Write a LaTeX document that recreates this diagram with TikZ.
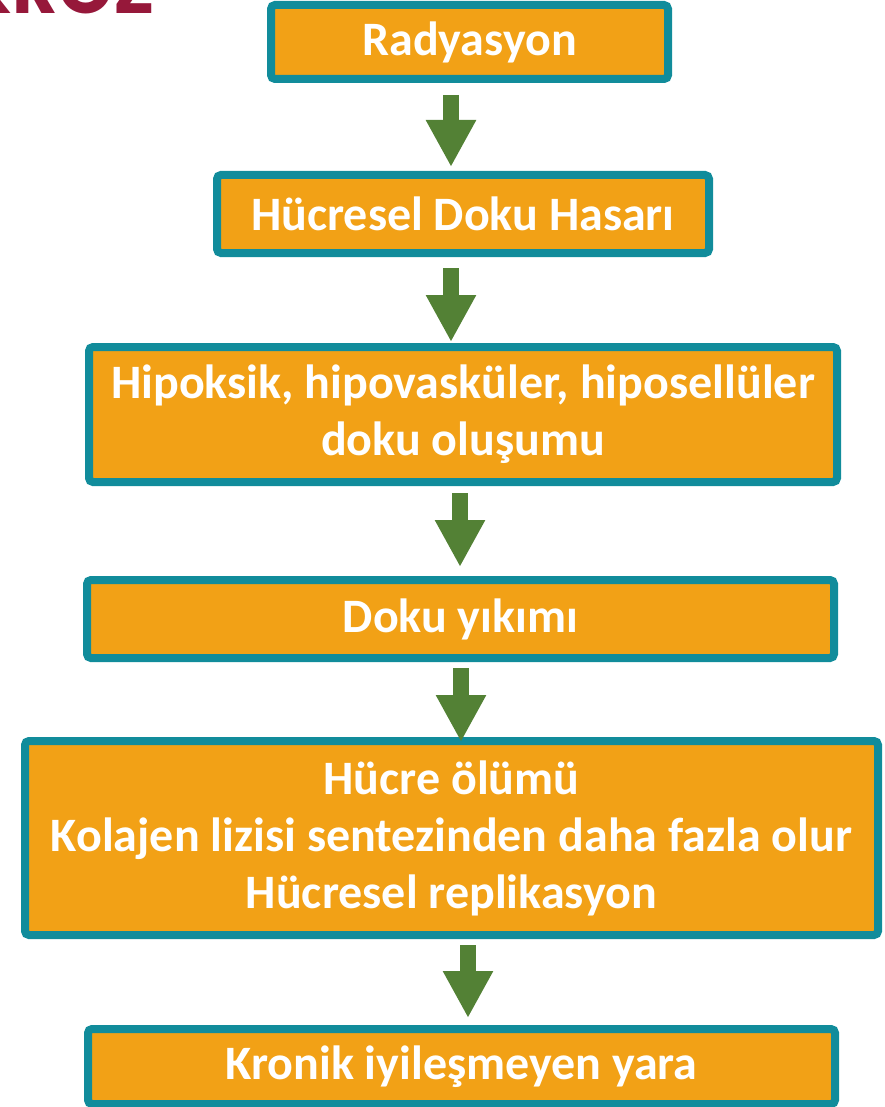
\documentclass[tikz,border=0pt]{standalone}
\usepackage{fontspec}
\setmainfont{Carlito}
\newfontfamily\titlefont{Poppins}
\usetikzlibrary{arrows.meta}
\definecolor{tealbox}{RGB}{17,140,155}
\definecolor{orangebox}{RGB}{242,161,22}
\definecolor{greenarrow}{RGB}{83,129,53}
\definecolor{titlered}{RGB}{150,24,58}

\begin{document}
\begin{tikzpicture}[
  x=1pt, y=-1pt,
  stepbox/.style={draw=tealbox, fill=orangebox, line width=8pt, rounded corners=4pt, inner sep=0pt, align=center, text=white, font=\fontsize{48}{57}\selectfont\bfseries},
  flow/.style={draw=greenarrow, line width=16pt, -{Triangle[width=47pt,length=47pt]}}
]
\useasboundingbox (0,0) rectangle (884,1107);
\clip (0,0) rectangle (884,1107);
% title, mostly cut off at the top
\node[anchor=base east, inner sep=0pt, text=titlered, font=\titlefont\fontsize{70}{70}\selectfont\bfseries] (title) at (155,14) {NEKROZ};
% steps
\node[stepbox, minimum width=397pt, minimum height=74pt] (rad) at (469.5,42) {Radyasyon};
\node[stepbox, minimum width=492pt, minimum height=78pt] (hasar) at (463,214) {Hücresel Doku Hasarı};
\node[stepbox, minimum width=748pt, minimum height=135pt] (hipo) at (463,414.5) {Hipoksik, hipovasküler, hiposellüler\\doku oluşumu};
\node[stepbox, minimum width=747pt, minimum height=78pt] (yikim) at (460.5,619) {Doku yıkımı};
\node[stepbox, minimum width=853pt, minimum height=194pt] (olum) at (451.5,838) {Hücre ölümü\\Kolajen lizisi sentezinden daha fazla olur\\Hücresel replikasyon};
\node[stepbox, minimum width=747pt, minimum height=75pt] (yara) at (461.5,1066.5) {Kronik iyileşmeyen yara};
% arrows
\draw[flow, shorten <=12pt, shorten >=4pt] (451,0 |- rad.south) -- (451,0 |- hasar.north);
\draw[flow, shorten <=11pt, shorten >=1pt] (451,0 |- hasar.south) -- (451,0 |- hipo.north);
\draw[flow, shorten <=7pt, shorten >=9pt] (460,0 |- hipo.south) -- (460,0 |- yikim.north);
\draw[flow, shorten <=6pt, shorten >=-5pt] (461,0 |- yikim.south) -- (461,0 |- olum.north);
\draw[flow, shorten <=6pt, shorten >=7pt] (468,0 |- olum.south) -- (468,0 |- yara.north);
\end{tikzpicture}
\end{document}
